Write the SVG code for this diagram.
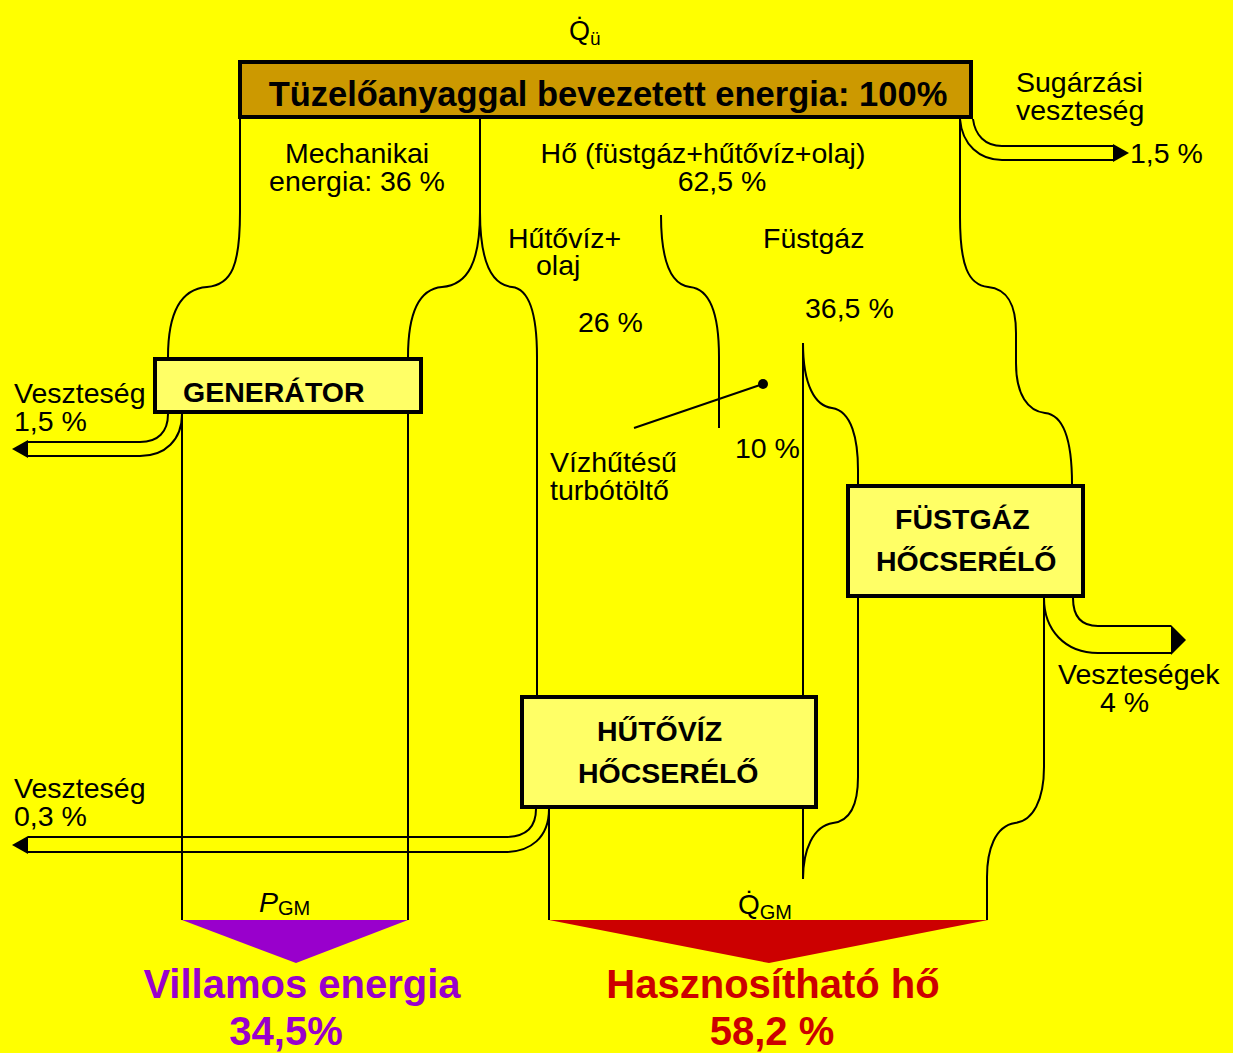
<svg xmlns="http://www.w3.org/2000/svg" width="1233" height="1053" viewBox="0 0 1233 1053">
<style>
.flow{fill:none;stroke:#000;stroke-width:2}
.box{fill:#FFFF66;stroke:#000;stroke-width:4}
.t{font-family:"Liberation Sans",Arial,sans-serif;font-size:28.5px;fill:#000}
.b{font-weight:bold}
</style>
<rect width="1233" height="1053" fill="#FFFF00"/>

<g id="connectors">
<path class="flow" d="M240,119 V212 C240,265 232,285 207,287 C180,289 168,315 168,357"/>
<path class="flow" d="M480,119 V212 C480,262 468,285 442,287 C418,289 408,315 408,357"/>
<path class="flow" d="M480,212 C480,262 492,285 512,287 C530,289 537,315 537,357 V695"/>
<path class="flow" d="M661,215 C661,265 672,285 690,287 C710,289 719,315 719,357 V428"/>
<path class="flow" d="M803,343 V695 M803,809 V879"/>
<path class="flow" d="M803,343 C803,385 815,406 832,408 C852,411 858,440 858,470 V484"/>
<path class="flow" d="M858,598 V777 C858,805 850,821 833,823 C813,826 803,850 803,879"/>
<path class="flow" d="M960,119 V217 C960,265 968,285 988,287 C1008,289 1016,305 1016,333 V363 C1016,395 1028,411 1045,413 C1065,415 1072,445 1072,484"/>
<path class="flow" d="M1044,598 V767 C1044,800 1033,821 1015,823 C995,826 987,850 987,877 V920"/>
<path class="flow" d="M182,414 V920 M408,414 V920 M549,809 V920"/>
<path class="flow" d="M973,119 C975,135 985,146 1002,146 H1113 M960,119 C962,145 980,160 1002,160 H1113"/>
<polygon points="1113,144 1129,153 1113,162" fill="#000"/>
<path class="flow" d="M168,414 C168,432 158,442 140,442 H28 M182,414 C182,440 165,456 140,456 H28"/>
<polygon points="28,440 12,449 28,458" fill="#000"/>
<path class="flow" d="M536,809 C536,828 525,837 505,837 H28 M549,809 C549,838 530,852 505,852 H28"/>
<polygon points="28,836 12,845 28,854" fill="#000"/>
<path class="flow" d="M1073,598 C1073,615 1080,626 1098,626 H1171 M1044,598 C1044,630 1065,653 1098,653 H1171"/>
<polygon points="1171,625 1186,640 1171,655" fill="#000"/>
<line class="flow" x1="634" y1="428" x2="763" y2="384"/>
<circle cx="763" cy="384" r="5" fill="#000"/>
</g>

<g id="fuel">
<rect x="240" y="62" width="731" height="55" fill="#CC9900" stroke="#000" stroke-width="4"/>
<text class="t b" x="608" y="106" text-anchor="middle" style="font-size:34.5px">Tüzelőanyaggal bevezetett energia: 100%</text>
</g>

<g id="generator">
<rect class="box" x="155" y="359" width="266" height="53"/>
<text class="t b" x="183" y="402">GENERÁTOR</text>
</g>

<g id="hutoviz">
<rect class="box" x="522" y="697" width="294" height="110"/>
<text class="t b" x="597" y="741">HŰTŐVÍZ</text>
<text class="t b" x="578" y="783">HŐCSERÉLŐ</text>
</g>

<g id="fustgaz">
<rect class="box" x="848" y="486" width="235" height="110"/>
<text class="t b" x="895" y="529">FÜSTGÁZ</text>
<text class="t b" x="876" y="571">HŐCSERÉLŐ</text>
</g>

<g id="electric">
<polygon points="182,920 408,920 296,963" fill="#9900CC"/>
<text class="t b" x="302" y="998" text-anchor="middle" style="font-size:40px;fill:#9900CC">Villamos energia</text>
<text class="t b" x="286" y="1045" text-anchor="middle" style="font-size:40px;fill:#9900CC">34,5%</text>
</g>

<g id="heat">
<polygon points="549,920 988,920 769,963" fill="#CC0000"/>
<text class="t b" x="773" y="998" text-anchor="middle" style="font-size:40px;fill:#CC0000">Hasznosítható hő</text>
<text class="t b" x="772" y="1045" text-anchor="middle" style="font-size:40px;fill:#CC0000">58,2 %</text>
</g>

<g id="labels">
<text class="t" x="569" y="40" style="font-size:27px">Q̇<tspan style="font-size:19px" dy="5">ü</tspan></text>
<text class="t" x="357" y="163" text-anchor="middle">Mechanikai</text>
<text class="t" x="357" y="191" text-anchor="middle">energia: 36 %</text>
<text class="t" x="703" y="163" text-anchor="middle">Hő (füstgáz+hűtővíz+olaj)</text>
<text class="t" x="722" y="191" text-anchor="middle">62,5 %</text>
<text class="t" x="1016" y="92">Sugárzási</text>
<text class="t" x="1016" y="120">veszteség</text>
<text class="t" x="1130" y="163">1,5 %</text>
<text class="t" x="508" y="248">Hűtővíz+</text>
<text class="t" x="536" y="275">olaj</text>
<text class="t" x="763" y="248">Füstgáz</text>
<text class="t" x="578" y="332">26 %</text>
<text class="t" x="805" y="318">36,5 %</text>
<text class="t" x="735" y="458">10 %</text>
<text class="t" x="550" y="472">Vízhűtésű</text>
<text class="t" x="550" y="500">turbótöltő</text>
<text class="t" x="14" y="403">Veszteség</text>
<text class="t" x="14" y="431">1,5 %</text>
<text class="t" x="14" y="798">Veszteség</text>
<text class="t" x="14" y="826">0,3 %</text>
<text class="t" x="1058" y="684">Veszteségek</text>
<text class="t" x="1100" y="712">4 %</text>
<text class="t" x="259" y="912" style="font-style:italic">P<tspan style="font-size:20px;font-style:normal" dy="3">GM</tspan></text>
<text class="t" x="738" y="914" style="font-size:28px">Q̇<tspan style="font-size:20px" dy="5">GM</tspan></text>
</g>
</svg>
